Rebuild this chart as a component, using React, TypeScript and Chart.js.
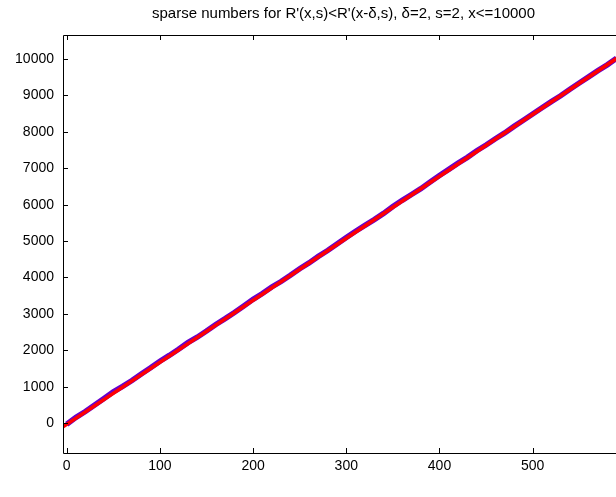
import React, { useEffect, useRef } from "react";
import { Chart, registerables } from "chart.js";

Chart.register(...registerables);

const TITLE = "sparse numbers for R'(x,s)<R'(x-\u03b4,s), \u03b4=2, s=2, x<=10000";

// index positions of the sampled sparse numbers
const xIndex = [
  0, 10, 20, 30, 40, 50, 60, 70, 80, 90,
  100, 110, 120, 130, 140, 150, 160, 170, 180, 190,
  200, 210, 220, 230, 240, 250, 260, 270, 280, 290,
  300, 310, 320, 330, 340, 350, 360, 370, 380, 390,
  400, 410, 420, 430, 440, 450, 460, 470, 480, 490,
  500, 510, 520, 530, 540, 550, 560, 570, 580, 590,
];

// sparse number values (blue)
const sparseValues = [
  -30, 160, 320, 500, 680, 860, 1010, 1170, 1350, 1520,
  1700, 1860, 2030, 2210, 2360, 2530, 2710, 2870, 3040, 3220,
  3400, 3560, 3740, 3890, 4060, 4240, 4400, 4580, 4740, 4920,
  5100, 5270, 5430, 5590, 5760, 5950, 6120, 6280, 6440, 6620,
  6800, 6970, 7140, 7300, 7480, 7640, 7810, 7970, 8150, 8320,
  8490, 8660, 8830, 8990, 9170, 9340, 9510, 9680, 9840, 10020,
];

// fitted line (red)
const fitX = [-4, 598];
const fitY = [-100, 10150];

const xTicks = [0, 100, 200, 300, 400, 500];
const yTicks = [0, 1000, 2000, 3000, 4000, 5000, 6000, 7000, 8000, 9000, 10000];

const FONT = "'Liberation Sans', Arial, Helvetica, sans-serif";

const framePlugin = {
  id: "matlabFrame",
  afterDraw(chart: any) {
    const ctx = chart.ctx;
    const { left, right, top, bottom } = chart.chartArea;
    const xs = chart.scales.x;
    const ys = chart.scales.y;
    ctx.save();
    ctx.strokeStyle = "#000";
    ctx.lineWidth = 1;
    ctx.beginPath();
    ctx.rect(Math.round(left) + 0.5, Math.round(top) + 0.5, right - left, bottom - top);
    ctx.stroke();
    ctx.beginPath();
    const tl = 5;
    for (const v of xTicks) {
      const px = Math.round(xs.getPixelForValue(v)) + 0.5;
      ctx.moveTo(px, bottom);
      ctx.lineTo(px, bottom - tl);
      ctx.moveTo(px, top);
      ctx.lineTo(px, top + tl);
    }
    for (const v of yTicks) {
      const py = Math.round(ys.getPixelForValue(v)) + 0.5;
      ctx.moveTo(left, py);
      ctx.lineTo(left + tl, py);
      ctx.moveTo(right, py);
      ctx.lineTo(right - tl, py);
    }
    ctx.stroke();
    // axes title, centred over the axes box as in the original figure
    ctx.fillStyle = "#000";
    ctx.font = "15px " + FONT;
    ctx.textAlign = "center";
    ctx.textBaseline = "middle";
    ctx.fillText(TITLE, (left + right) / 2, 14);
    ctx.restore();
  },
};

export default function App() {
  const ref = useRef<HTMLCanvasElement | null>(null);

  useEffect(() => {
    if (!ref.current) return;
    const blue = xIndex.map((x, i) => ({ x, y: sparseValues[i] }));
    const red = fitX.map((x, i) => ({ x, y: fitY[i] }));
    const chart = new Chart(ref.current, {
      type: "line",
      data: {
        datasets: [
          {
            data: red,
            borderColor: "#ff0000",
            borderWidth: 3.5,
            pointRadius: 0,
            order: 0,
          },
          {
            data: blue,
            borderColor: "rgb(102,0,204)",
            borderWidth: 5.5,
            pointRadius: 0,
            order: 1,
          },
        ],
      },
      options: {
        responsive: false,
        animation: false,
        events: [],
        layout: { padding: { left: 0, right: 0, top: 35, bottom: 0 } },
        plugins: {
          legend: { display: false },
          tooltip: { enabled: false },
          title: { display: false },
        },
        scales: {
          x: {
            type: "linear",
            min: -4,
            max: 598,
            grid: { display: false, drawTicks: false },
            border: { display: false },
            afterBuildTicks: (s: any) => {
              s.ticks = xTicks.map((v) => ({ value: v }));
            },
            afterFit: (s: any) => {
              s.height = 44;
            },
            ticks: {
              color: "#000",
              font: { family: FONT, size: 14 },
              padding: 5,
              maxRotation: 0,
              autoSkip: false,
              callback: (v: any) => String(v),
            },
          },
          y: {
            type: "linear",
            min: -820,
            max: 10660,
            grid: { display: false, drawTicks: false },
            border: { display: false },
            afterBuildTicks: (s: any) => {
              s.ticks = yTicks.map((v) => ({ value: v }));
            },
            afterFit: (s: any) => {
              s.width = 63;
            },
            ticks: {
              color: "#000",
              font: { family: FONT, size: 14 },
              padding: 9,
              autoSkip: false,
              callback: (v: any) => String(v),
            },
          },
        },
      },
      plugins: [framePlugin],
    });
    return () => chart.destroy();
  }, []);

  return (
    <div
      style={{
        position: "absolute",
        left: 0,
        top: 0,
        width: 616,
        height: 497,
        overflow: "hidden",
        background: "#fff",
      }}
    >
      <canvas ref={ref} width={624} height={497} style={{ width: 624, height: 497, display: "block" }} />
    </div>
  );
}
